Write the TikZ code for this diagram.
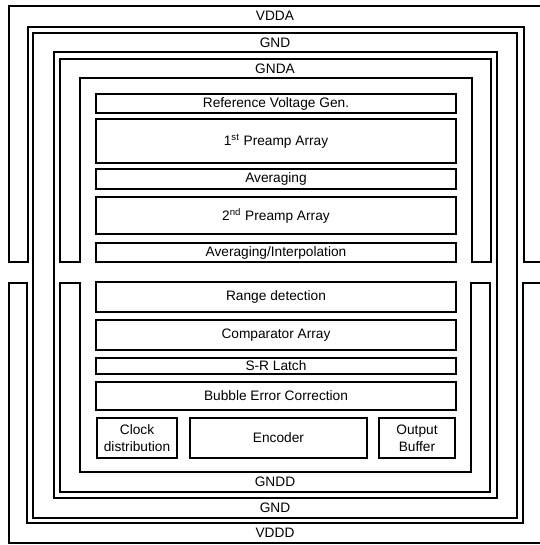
\documentclass[tikz,border=0pt]{standalone}
\usepackage{fontspec}
\setmainfont{Liberation Sans}
\usetikzlibrary{fit}

\begin{document}
\begin{tikzpicture}[x=0.02cm, y=-0.02cm]
	\tikzset{rail/.style={draw=black, line width=0.8pt},
		block/.style={draw=black, line width=0.9pt, inner sep=0pt},
		blocktext/.style={font=\fontsize{7.8}{9.6}\selectfont, align=center},
		railname/.style={font=\fontsize{7.8}{9.6}\selectfont}}
	\useasboundingbox (0,0) rectangle (540,545);
	
	% Supply rails
	\draw[rail] (540,6) -- (9,6) -- (9,262) -- (28,262) -- (28,27) -- (524,27) -- (524,262) -- (540,262);
	\draw[rail] (540,543) -- (9,543) -- (9,283) -- (27,283) -- (27,523) -- (523,523) -- (523,283) -- (540,283);
	\draw[rail] (33,33) rectangle (517,518);
	\draw[rail] (54,52) rectangle (497,498);
	\draw[rail] (60,262) -- (60,59) -- (491,59) -- (491,262) -- (472,262) -- (472,78) -- (80,78) -- (80,262) -- cycle;
	\draw[rail] (60,283) -- (60,492) -- (490,492) -- (490,283) -- (471,283) -- (471,472) -- (80,472) -- (80,283) -- cycle;
	\node[railname] (vdda) at (275,16) {VDDA};
	\node[railname] (gndtop) at (275,42.5) {GND};
	\node[railname] (gnda) at (275,68.5) {GNDA};
	\node[railname] (gndd) at (275,482) {GNDD};
	\node[railname] (gndbot) at (275,508) {GND};
	\node[railname] (vddd) at (275,533) {VDDD};
	
	% Core blocks
	\foreach \n/\ya/\yb/\txt in {ref/94/113/{Reference Voltage Gen.},
		pre1/119/163/{1\textsuperscript{st} Preamp Array},
		avg/169/189/{Averaging},
		pre2/197/234/{2\textsuperscript{nd} Preamp Array},
		interp/243/262/{Averaging/Interpolation},
		range/282/312/{Range detection},
		comp/320/350/{Comparator Array},
		latch/358/374/{S-R Latch},
		bubble/382/410/{Bubble Error Correction}}{
		\node[block, fit={(96,\ya) (456,\yb)}, label={[blocktext]center:\txt}] (\n) {};
	}
	
	% Bottom row
	\node[block, fit={(97,418) (177,458)}, label={[blocktext]center:Clock\\distribution}] (clk) {};
	\node[block, fit={(190,418) (367,458)}, label={[blocktext]center:Encoder}] (enc) {};
	\node[block, fit={(379,418) (455,458)}, label={[blocktext]center:Output\\Buffer}] (outbuf) {};
\end{tikzpicture}
\end{document}
